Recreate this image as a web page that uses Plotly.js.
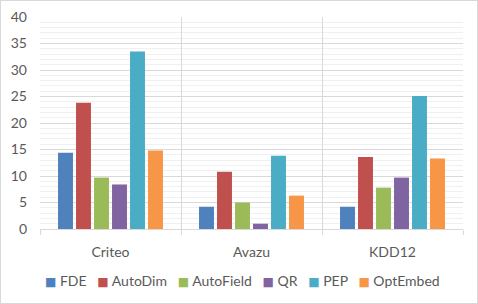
<!DOCTYPE html>
<html><head><meta charset="utf-8">
<script src="https://cdn.plot.ly/plotly-3.0.1.min.js"></script>
<style>html,body{margin:0;padding:0;background:#fff}#c{width:476px;height:302px;border:1px solid #d9d9d9}</style>
</head><body><div id="c"></div>
<script>
const categories = ["Criteo", "Avazu", "KDD12"];
const seriesNames = ["FDE", "AutoDim", "AutoField", "QR", "PEP", "OptEmbed"];
const FDE = [14.4, 4.2, 4.2];
const AutoDim = [23.8, 10.8, 13.6];
const AutoField = [9.7, 5.0, 7.8];
const QR = [8.4, 1.0, 9.7];
const PEP = [33.5, 13.8, 25.1];
const OptEmbed = [14.8, 6.3, 13.3];
const yTicks = [0, 5, 10, 15, 20, 25, 30, 35, 40];
const colors = ["#4f81bd", "#c0504d", "#9bbb59", "#8064a2", "#4bacc6", "#f79646"];
const values = [FDE, AutoDim, AutoField, QR, PEP, OptEmbed];

const traces = seriesNames.map((n, i) => ({
  type: "bar", name: n, x: categories, y: values[i],
  marker: {color: colors[i]}, showlegend: false
}));
const font = {family: "Lato, 'Open Sans', sans-serif", size: 14, color: "#595959"};
const gap = "&nbsp;&nbsp;&nbsp;";
const legendText = seriesNames.map((n, i) =>
  `<span style="color:${colors[i]};font-family:'DejaVu Sans';font-size:12px">■</span> ${n}`).join(gap);

Plotly.newPlot("c", traces, {
  width: 476, height: 302,
  margin: {l: 39, r: 14, t: 16, b: 74},
  paper_bgcolor: "#fff", plot_bgcolor: "#fff",
  font: font,
  barmode: "group", bargap: 0.234, bargroupgap: 0.17,
  showlegend: false,
  annotations: [{
    xref: "paper", yref: "paper", x: 0.478, y: -0.245, xanchor: "center", yanchor: "middle",
    showarrow: false, text: legendText, font: {family: font.family, size: 14, color: "#595959"}
  }],
  xaxis: {
    type: "category", tickson: "boundaries", showgrid: true, gridcolor: "#d9d9d9", gridwidth: 1,
    ticks: "outside", ticklen: 5, tickcolor: "#d9d9d9", ticklabelstandoff: 10,
    showline: true, linecolor: "#d9d9d9", linewidth: 1, tickfont: font, fixedrange: true
  },
  yaxis: {
    range: [0, 40], tickvals: yTicks, ticktext: yTicks.map(String),
    showgrid: true, gridcolor: "#d9d9d9", gridwidth: 1, zeroline: false, showline: false,
    ticks: "", ticklabelstandoff: 12, tickfont: font,
    minor: {dtick: 1, showgrid: true, gridcolor: "#f0f0f0", gridwidth: 1},
    fixedrange: true
  }
}, {displayModeBar: false, staticPlot: true});
</script></body></html>
